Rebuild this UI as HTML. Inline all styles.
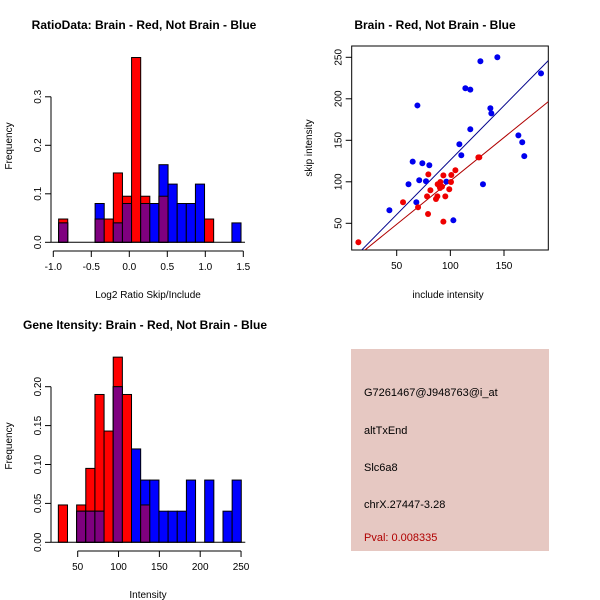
<!DOCTYPE html>
<html><head><meta charset="utf-8"><style>
body{margin:0;background:#fff}
svg{display:block;font-family:"Liberation Sans",sans-serif}
</style></head><body>
<svg id="c" width="600" height="600" viewBox="0 0 600 600">
<rect width="600" height="600" fill="#fff"/>
<text x="144" y="29" text-anchor="middle" font-size="12" font-weight="bold">RatioData: Brain - Red, Not Brain - Blue</text>
<text x="435" y="29" text-anchor="middle" font-size="12" font-weight="bold">Brain - Red, Not Brain - Blue</text>
<text x="145" y="329" text-anchor="middle" font-size="12" font-weight="bold">Gene Itensity: Brain - Red, Not Brain - Blue</text>
<text x="148" y="298" text-anchor="middle" font-size="10">Log2 Ratio Skip/Include</text>
<text transform="translate(12,146) rotate(-90)" text-anchor="middle" font-size="10">Frequency</text>
<text x="448" y="298" text-anchor="middle" font-size="10">include intensity</text>
<text transform="translate(312,148) rotate(-90)" text-anchor="middle" font-size="10">skip intensity</text>
<text x="148" y="598" text-anchor="middle" font-size="10">Intensity</text>
<text transform="translate(12,446) rotate(-90)" text-anchor="middle" font-size="10">Frequency</text>
<rect x="351" y="349" width="198" height="202" fill="#e6c8c2"/>
<g font-size="11">
<text x="364" y="396">G7261467@J948763@i_at</text>
<text x="364" y="434">altTxEnd</text>
<text x="364" y="471">Slc6a8</text>
<text x="364" y="508">chrX.27447-3.28</text>
<text x="364" y="541" fill="#b00000">Pval: 0.008335</text>
</g>
<g id="g1"></g><g id="g2"></g><g id="g3"></g>
</svg>
<script>
// Ratio histogram data
const ratioBinStart = -0.93, ratioBinWidth = 0.12;
const ratioRed  = [0.048,0,0,0,0.048,0.048,0.143,0.095,0.381,0.095,0,0.095,0,0,0,0,0.048,0,0,0];
const ratioBlue = [0.04,0,0,0,0.08,0,0.04,0.08,0,0.08,0.08,0.16,0.12,0.08,0.08,0.12,0,0,0,0.04];
const ratioXTicks = [-1.0,-0.5,0.0,0.5,1.0,1.5];
const ratioXLabels = ["-1.0","-0.5","0.0","0.5","1.0","1.5"];
const ratioYTicks = [0,0.1,0.2,0.3];
const ratioYLabels = ["0.0","0.1","0.2","0.3"];
// Intensity histogram data
const intBinStart = 26.3, intBinWidth = 11.2;
const intRed  = [0.048,0,0.048,0.095,0.19,0.143,0.238,0.19,0,0.048,0,0,0,0,0,0,0,0,0,0];
const intBlue = [0,0,0.04,0.04,0.04,0,0.20,0,0.12,0.08,0.08,0.04,0.04,0.04,0.08,0,0.08,0,0.04,0.08];
const intXTicks = [50,100,150,200,250];
const intXLabels = ["50","100","150","200","250"];
const intYTicks = [0,0.05,0.10,0.15,0.20];
const intYLabels = ["0.00","0.05","0.10","0.15","0.20"];
// Scatter data
const blueX = [43.2,64.9,61,71,73.9,77.3,80.4,68.3,69.3,96.3,102.8,108.4,110.2,114,118.6,118.6,128,143.8,137.3,138.2,130.4,163.4,167,168.9,184.5];
const blueY = [65.7,124.3,97,101.8,122.3,100.6,120,75.3,192,100.2,53.6,145.2,132,212.7,211,163.3,245.2,250,188.6,182.5,97,156,147.6,131,230.7];
const redX = [14.3,55.9,69.9,79.2,79.5,78.3,81.4,86.6,87.9,88.2,89.8,90.7,90.4,92.2,93.5,93.5,95.3,99,100.6,100.9,104.7,126.1,127];
const redY = [27.1,75.3,69.3,61.2,109,82.5,89.8,79.3,82.5,97,95,99.8,92.6,94.2,107.8,52,82.5,91,99.8,108.2,113.9,129.5,129.5];
const fitBlue = [-5, 1.312];
const fitRed = [-3.5, 1.046];
const scXTicks = [50,100,150];
const scYTicks = [50,100,150,200,250];

const NS = "http://www.w3.org/2000/svg";
function mk(parent, tag, attrs){const e=document.createElementNS(NS,tag);for(const k in attrs)e.setAttribute(k,attrs[k]);parent.appendChild(e);return e;}

function hist(g, opts){
  const {bs,bw,red,blue,xs,ys,xT,xL,yT,yL,xAxisY,yAxisX,prefix} = opts;
  for(let i=0;i<red.length;i++){
    const x0=xs(bs+i*bw), x1=xs(bs+(i+1)*bw);
    const r=red[i], b=blue[i];
    if(r>0){const e=mk(g,'rect',{x:x0,y:ys(r),width:x1-x0,height:ys(0)-ys(r),fill:'#ff0000',stroke:'#000','stroke-width':1});
      
      }
    if(b>0){const e=mk(g,'rect',{x:x0,y:ys(b),width:x1-x0,height:ys(0)-ys(b),fill:'#0000ff',stroke:'#000','stroke-width':1});
      
      }
    if(r>0&&b>0){const m=Math.min(r,b);const e=mk(g,'rect',{x:x0,y:ys(m),width:x1-x0,height:ys(0)-ys(m),fill:'#7f007f',stroke:'#000','stroke-width':1});
      
      }
  }
  const xa=mk(g,'line',{x1:xs(xT[0]),x2:xs(xT[xT.length-1]),y1:xAxisY,y2:xAxisY,stroke:'#000'});
  
  
  xT.forEach((v,i)=>{mk(g,'line',{x1:xs(v),x2:xs(v),y1:xAxisY,y2:xAxisY+6,stroke:'#000'});
    const t=mk(g,'text',{x:xs(v),y:xAxisY+19,'text-anchor':'middle','font-size':10});t.textContent=xL[i];
    
    });
  const ya=mk(g,'line',{x1:yAxisX,x2:yAxisX,y1:ys(yT[0]),y2:ys(yT[yT.length-1]),stroke:'#000'});
  
  
  yT.forEach((v,i)=>{mk(g,'line',{x1:yAxisX-6,x2:yAxisX,y1:ys(v),y2:ys(v),stroke:'#000'});
    const t=mk(g,'text',{transform:`translate(${yAxisX-10},${ys(v)}) rotate(-90)`,'text-anchor':'middle','font-size':10});t.textContent=yL[i];
    
    });
  mk(g,'line',{x1:yAxisX,x2:xs(bs+red.length*bw)+4,y1:ys(0),y2:ys(0),stroke:'#000'});
}

hist(document.getElementById('g1'),{bs:ratioBinStart,bw:ratioBinWidth,red:ratioRed,blue:ratioBlue,
  xs:v=>53.3+(v+1)*76, ys:v=>242.3-v*485, xT:ratioXTicks,xL:ratioXLabels,yT:ratioYTicks,yL:ratioYLabels,
  xAxisY:251, yAxisX:51, prefix:'ratio'});
hist(document.getElementById('g3'),{bs:intBinStart,bw:intBinWidth,red:intRed,blue:intBlue,
  xs:v=>77.7+(v-50)*0.8167, ys:v=>542.3-v*778, xT:intXTicks,xL:intXLabels,yT:intYTicks,yL:intYLabels,
  xAxisY:551, yAxisX:51, prefix:'intensity'});

// scatter
const g2=document.getElementById('g2');
const sx=v=>396.7+(v-50)*1.073, sy=v=>223.3-(v-50)*0.83;
const L=351.7,R=548.3,T=46,B=250;
const cp=mk(g2,'clipPath',{id:'clp'});
mk(cp,'rect',{x:L,y:T,width:R-L,height:B-T});
const box=mk(g2,'rect',{x:L,y:T,width:R-L,height:B-T,fill:'none',stroke:'#000'});


const xmin=8.1,xmax=191.3;
function fit(f,col,name){const e=mk(g2,'line',{x1:sx(xmin),y1:sy(f[0]+f[1]*xmin),x2:sx(xmax),y2:sy(f[0]+f[1]*xmax),stroke:col,'clip-path':'url(#clp)'});
  
  }
fit(fitBlue,'#00008b','blue-fit-line');
fit(fitRed,'#b00000','red-fit-line');
blueX.forEach((v,i)=>{const c=mk(g2,'circle',{cx:sx(v),cy:sy(blueY[i]),r:3,fill:'#0000ee'});
  
  });
redX.forEach((v,i)=>{const c=mk(g2,'circle',{cx:sx(v),cy:sy(redY[i]),r:3,fill:'#ee0000'});
  
  });
scXTicks.forEach(v=>{mk(g2,'line',{x1:sx(v),x2:sx(v),y1:B,y2:B+6,stroke:'#000'});
  const t=mk(g2,'text',{x:sx(v),y:B+19,'text-anchor':'middle','font-size':10});t.textContent=v;
  
  });
scYTicks.forEach(v=>{mk(g2,'line',{x1:L-6,x2:L,y1:sy(v),y2:sy(v),stroke:'#000'});
  const t=mk(g2,'text',{transform:`translate(${L-10},${sy(v)}) rotate(-90)`,'text-anchor':'middle','font-size':10});t.textContent=v;
  
  });
</script>
</body></html>
